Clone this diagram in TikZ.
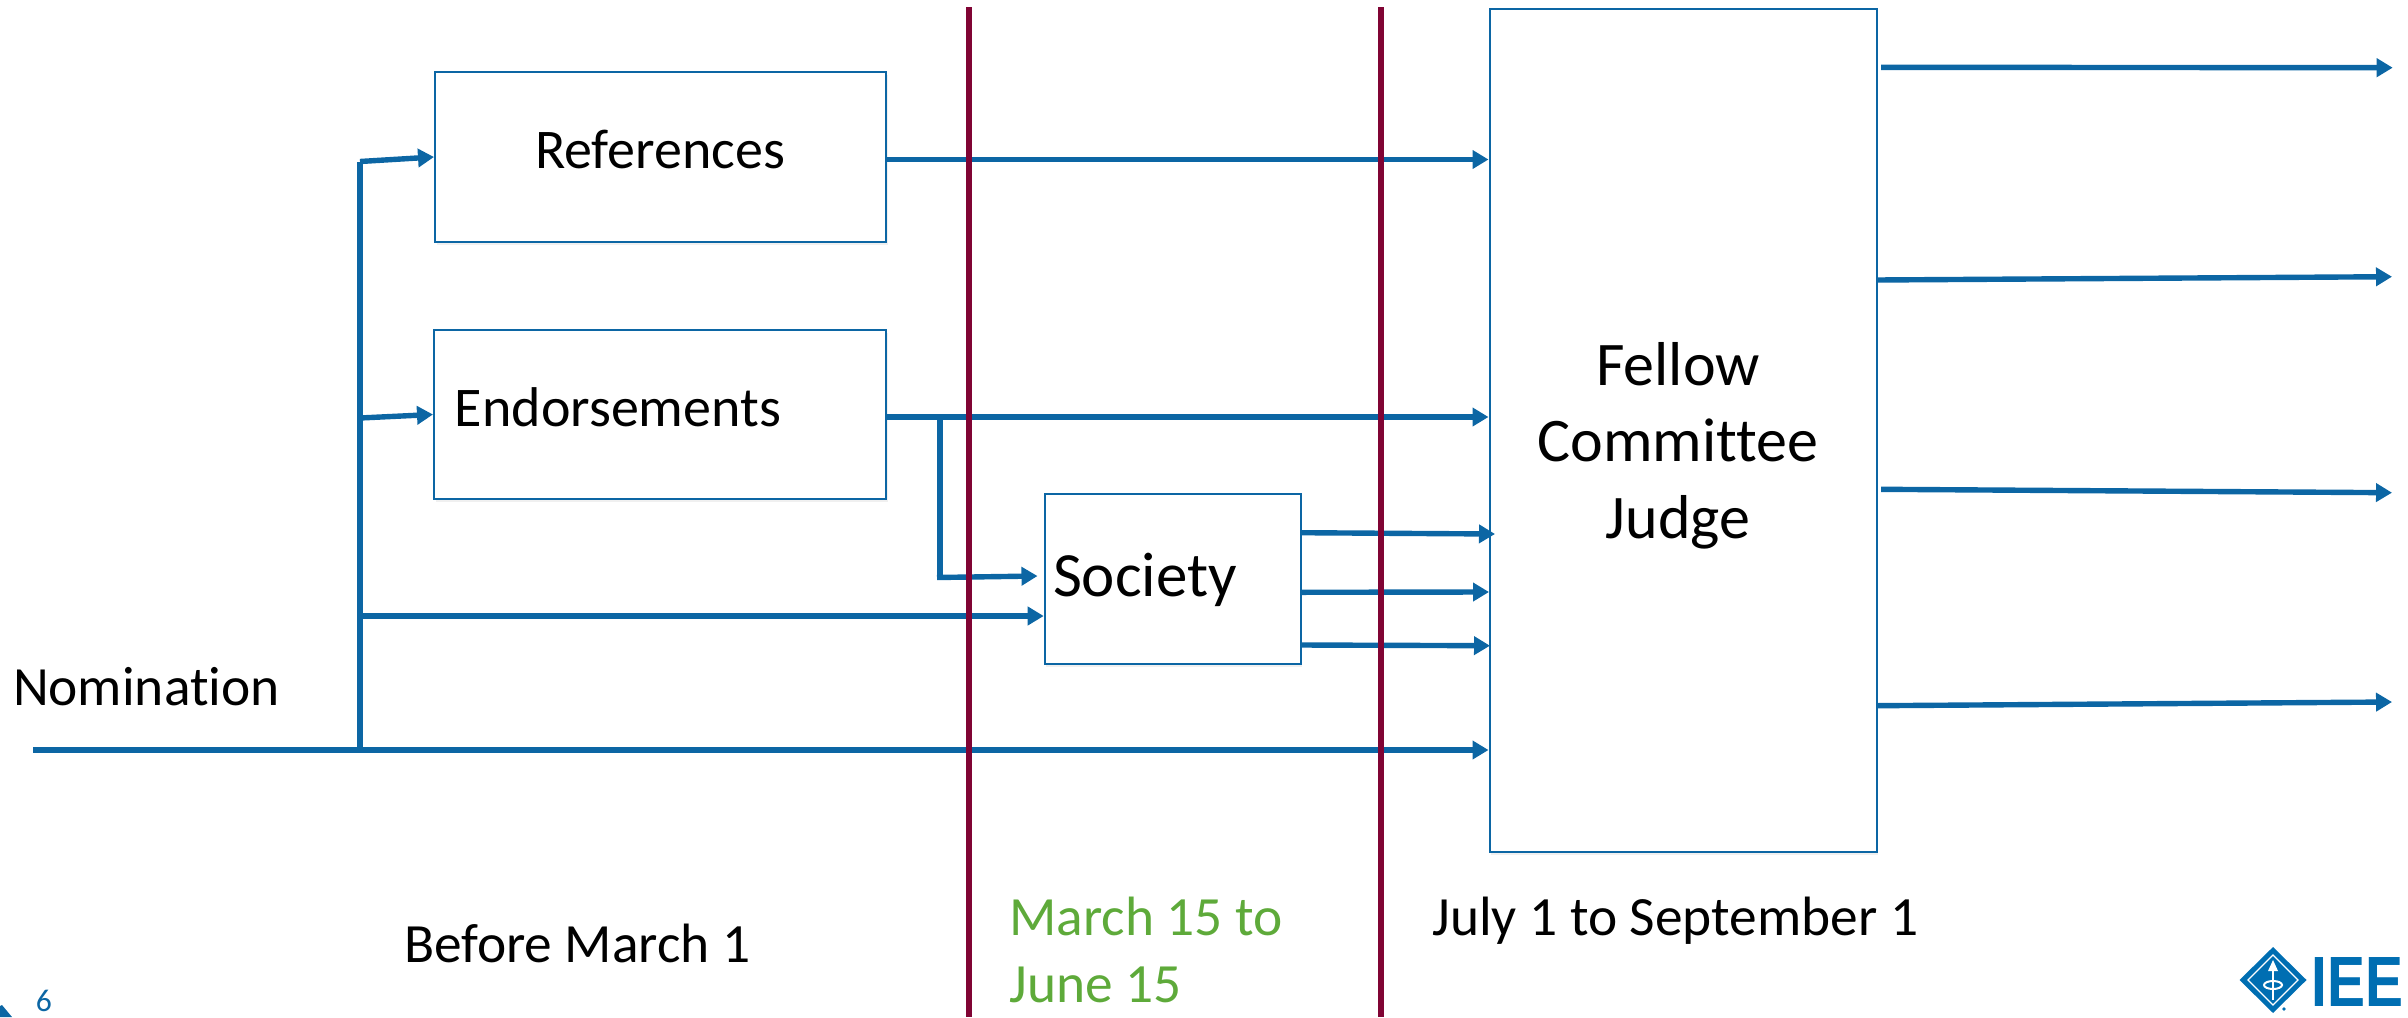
\documentclass[tikz,border=0pt]{standalone}
\usepackage{fontspec}
\setmainfont{Carlito}[Ligatures=NoCommon]
\newfontfamily\logofont[FakeStretch=0.8]{Liberation Sans}
\usetikzlibrary{arrows.meta,shadows}
\definecolor{iblue}{RGB}{12,102,164}
\definecolor{logoblue}{RGB}{0,110,178}
\definecolor{maroon}{RGB}{128,4,52}
\definecolor{igreen}{RGB}{94,170,58}
\begin{document}
\begin{tikzpicture}[x=0.5pt,y=-0.5pt,
  flow/.style={draw=iblue, line width=2.7pt, -{Triangle[length=8pt,width=9pt]}},
  trunkline/.style={draw=iblue, line width=2.7pt},
  box/.style={draw=iblue, line width=1pt, fill=white, rectangle, inner sep=0pt,
    drop shadow={shadow xshift=0.8pt, shadow yshift=-1.5pt, opacity=0.12}},
  period/.style={draw=maroon, line width=3pt},
  boxtext/.style={inner sep=0pt, anchor=base},
  lbl/.style={inner sep=0pt, anchor=base west, font=\fontsize{27.7}{33.3}\selectfont}
]
\useasboundingbox (0,0) rectangle (2408,1017);

% boxes
\node[box, minimum width=225.5pt, minimum height=85pt] (refs) at (660.5,157) {};
\node[box, minimum width=226pt, minimum height=84.5pt] (endo) at (660,414.5) {};
\node[box, minimum width=128pt, minimum height=85pt] (soc) at (1172.7,579) {};
\node[box, minimum width=193.6pt, minimum height=421.2pt] (fel) at (1683.1,430.5) {};

% box texts
\node[boxtext, font=\fontsize{28}{34}\selectfont] (refst) at (660,168.3) {References};
\node[boxtext, font=\fontsize{28}{34}\selectfont] (endot) at (618,426.7) {Endorsements};
\node[boxtext, font=\fontsize{31.5}{38}\selectfont] (soct) at (1145,596) {Society};
\node[boxtext, font=\fontsize{31}{38.3}\selectfont, align=center] (felt) at (1678,538.3) {Fellow\\Committee\\Judge};

% coordinates
\coordinate (nomstart) at (33,750);
\coordinate (tbot) at (360,750);
\coordinate (ttop) at (360,161.5);
\coordinate (tend) at (360,418);
\coordinate (tsoc) at (360,616);
\coordinate (rout) at (886,159.5);
\coordinate (eout) at (886,417);
\coordinate (ebr) at (940,417);
\coordinate (ebrb) at (940,578.5);
\coordinate (ebrs) at (937,577.5);
\coordinate (socin) at (1037.5,576);
\coordinate (s1) at (1301,532.7);
\coordinate (s1e) at (1495,534);
\coordinate (s2) at (1301,592.3);
\coordinate (s2e) at (1489,592);
\coordinate (s3) at (1301,645);
\coordinate (s3e) at (1490,645.7);
\coordinate (f1) at (1881,67.3);
\coordinate (f1e) at (2392.7,67.7);
\coordinate (f2) at (1877,280);
\coordinate (f2e) at (2392,276.7);
\coordinate (f3) at (1881,489.3);
\coordinate (f3e) at (2392,492.7);
\coordinate (f4) at (1877,705.7);
\coordinate (f4e) at (2392,702);

% connectors
\draw[flow] (nomstart) -- (nomstart -| fel.west);
\draw[trunkline] (tbot) -- (ttop);
\draw[flow] (ttop) -- (refs.west);
\draw[flow] (tend) -- (endo.west);
\draw[flow] (tsoc) -- (tsoc -| soc.west);
\draw[flow] (rout) -- (rout -| fel.west);
\draw[flow] (eout) -- (eout -| fel.west);
\draw[trunkline] (ebr) -- (ebrb);
\draw[flow] (ebrs) -- (socin);
\draw[flow] (s1) -- (s1e);
\draw[flow] (s2) -- (s2e);
\draw[flow] (s3) -- (s3e);
\draw[flow] (f1) -- (f1e);
\draw[flow] (f2) -- (f2e);
\draw[flow] (f3) -- (f3e);
\draw[flow] (f4) -- (f4e);

% period separators
\coordinate (pa) at (969,7.3);
\coordinate (pab) at (969,1017);
\coordinate (pb) at (1381,7.3);
\coordinate (pbb) at (1381,1017);
\draw[period] (pa) -- (pab);
\draw[period] (pb) -- (pbb);

% labels
\node[lbl] (nom) at (12.6,705) {Nomination};
\node[lbl] (per1) at (403.6,962) {Before March 1};
\node[lbl, text=igreen, align=left] (per2) at (1009,1002) {March 15 to\\June 15};
\node[lbl] (per3) at (1432,935) {July 1 to September 1};
\node[inner sep=0pt, anchor=base west, text=iblue, font=\fontsize{15.8}{19}\selectfont] (pg) at (35.5,1011.7) {6};

% corner decoration
\fill[iblue] (0,1006) -- (2,1005) -- (12,1017) -- (0,1017) -- cycle;

% logo
\fill[logoblue] (2273,947) -- (2306.5,980) -- (2273,1013) -- (2239.5,980) -- cycle;
\draw[white, line width=0.6pt] (2273,955) -- (2298,980) -- (2273,1005) -- (2248,980) -- cycle;
\draw[white, line width=1.3pt] (2273,1000) -- (2273,969);
\fill[white] (2273,960) -- (2278,971) -- (2268,971) -- cycle;
\draw[white, line width=1pt] (2273,985) ellipse [x radius=4.5pt, y radius=2pt];
\fill[logoblue] (2284,1009) circle [radius=0.9pt];
\node[inner sep=0pt, anchor=base west, text=logoblue, font=\logofont\bfseries\fontsize{35.6}{40}\selectfont] (logo) at (2311,1006) {IEE};
\end{tikzpicture}
\end{document}
